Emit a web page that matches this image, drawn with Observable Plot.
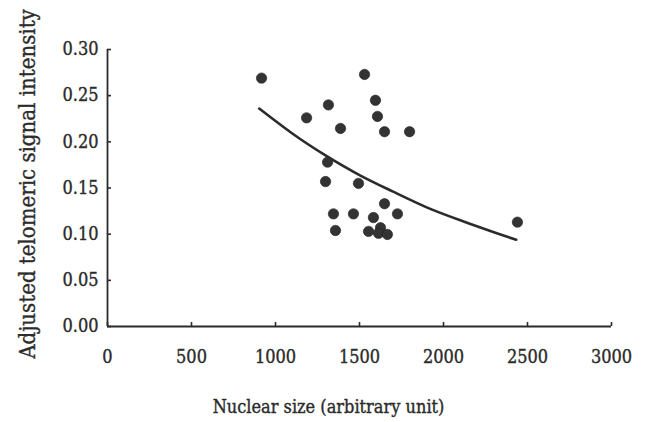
<!DOCTYPE html>
<html>
<head>
<meta charset="utf-8">
<script src="https://cdn.jsdelivr.net/npm/d3@7"></script>
<script src="https://cdn.jsdelivr.net/npm/@observablehq/plot@0.6"></script>
<style>
  html, body { margin: 0; padding: 0; background: #fff; }
  #chart svg text { stroke: #2b2b2b; stroke-width: 0.35px; }
</style>
</head>
<body>
<div id="chart"></div>
<script>
// Scatter points
const nuclearSize = [917, 1530, 1185, 1315, 1387, 1595, 1607, 1649, 1798, 1310, 1298, 1494, 1345, 1464, 1649, 1583, 1726, 1357, 1554, 1625, 1613, 1666, 2440];
const signal      = [0.269, 0.273, 0.226, 0.240, 0.2145, 0.245, 0.2275, 0.211, 0.211, 0.178, 0.157, 0.155, 0.122, 0.122, 0.133, 0.118, 0.122, 0.104, 0.103, 0.107, 0.101, 0.0997, 0.113];

// Fitted curve
const curveX = [903, 1100, 1300, 1500, 1700, 1900, 2100, 2300, 2433];
const curveY = [0.236, 0.209, 0.185, 0.164, 0.146, 0.129, 0.115, 0.102, 0.094];

// Axes
const xTicks = [0, 500, 1000, 1500, 2000, 2500, 3000];
const yTicks = [0, 0.05, 0.10, 0.15, 0.20, 0.25, 0.30];
const xLabel = "Nuclear size (arbitrary unit)";
const yLabel = "Adjusted telomeric signal intensity";

const points = nuclearSize.map((x, i) => ({x, y: signal[i]}));
const curve = curveX.map((x, i) => ({x, y: curveY[i]}));

const ink = "#2b2b2b";
const W = 654, H = 422, mL = 107, mR = 43, mT = 49, mB = 96;
const frameW = W - mL - mR, frameH = H - mT - mB, tickLen = 4;

const chart = Plot.plot({
  width: W,
  height: H,
  marginLeft: mL,
  marginRight: mR,
  marginTop: mT,
  marginBottom: mB,
  style: {
    fontFamily: "'DejaVu Serif Condensed', 'DejaVu Serif', serif",
    fontSize: "18px",
    color: ink,
    background: "#fff"
  },
  x: {domain: [0, 3000]},
  y: {domain: [0, 0.30]},
  marks: [
    Plot.axisX({
      ticks: xTicks,
      tickSize: 0,
      tickPadding: 24,
      tickFormat: d => String(d),
      label: null
    }),
    Plot.axisY({
      ticks: yTicks,
      tickSize: 0,
      tickPadding: 9,
      tickFormat: d3.format(".2f"),
      label: null
    }),
    // inward tick marks
    Plot.tickX(xTicks, {x: d => d, insetTop: frameH - tickLen, stroke: ink, strokeWidth: 1.6}),
    Plot.tickY(yTicks, {y: d => d, insetRight: frameW - tickLen, stroke: ink, strokeWidth: 1.6}),
    Plot.ruleX([0], {stroke: ink, strokeWidth: 1.8}),
    Plot.ruleY([0], {stroke: ink, strokeWidth: 1.8}),
    // axis titles
    Plot.text([xLabel], {text: d => d, frameAnchor: "bottom", textAnchor: "middle", dx: -31, dy: 86, fontSize: 18}),
    Plot.text([yLabel], {text: d => d, frameAnchor: "left", textAnchor: "middle", lineAnchor: "middle", rotate: -90, dx: -80, dy: -4, fontSize: 22}),
    Plot.line(curve, {x: "x", y: "y", curve: "natural", stroke: ink, strokeWidth: 2.6}),
    Plot.dot(points, {x: "x", y: "y", r: 5.2, fill: "#333", stroke: "#222", strokeWidth: 0.6})
  ]
});

document.getElementById("chart").appendChild(chart);
</script>
</body>
</html>
